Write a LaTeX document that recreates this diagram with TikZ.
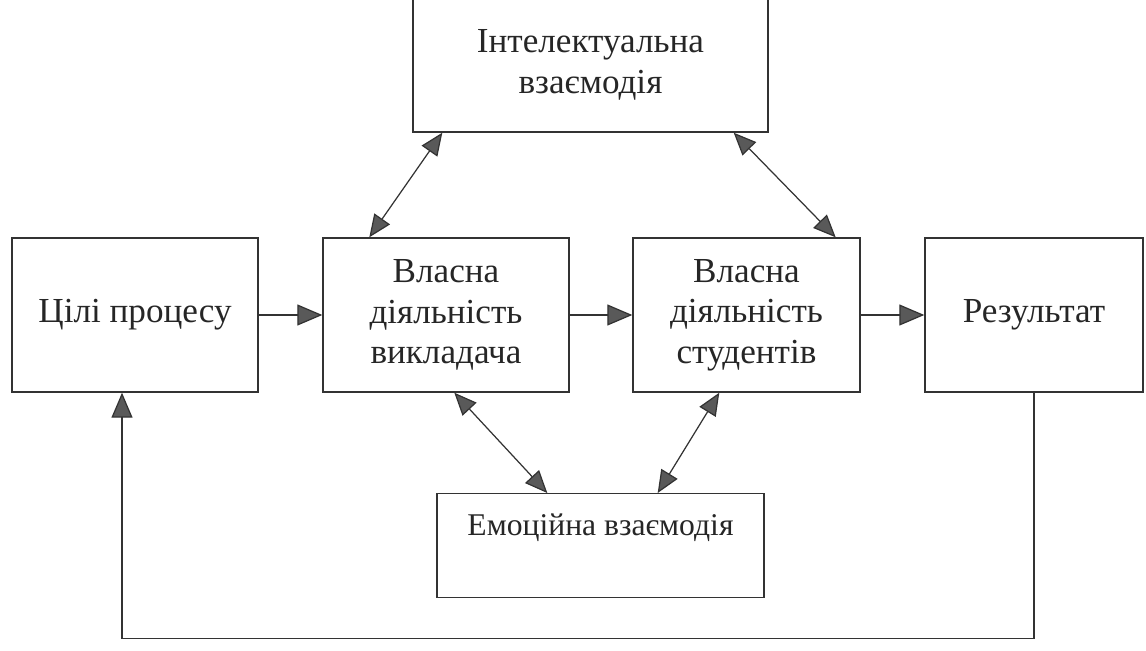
\documentclass[tikz,border=0pt]{standalone}
\usepackage{fontspec}
\setmainfont{Liberation Serif}
\usepackage{tikz}
\usetikzlibrary{positioning, arrows.meta}

\begin{document}
\begin{tikzpicture}[x=0.02cm, y=-0.02cm,
    every node/.style={font=\fontsize{20}{23}\selectfont, text=black!85},
    blockbox/.style={rectangle, draw=black!80, line width=0.8pt, align=center, inner sep=0pt},
    arrow/.style={-{Triangle[length=0.5cm, width=0.42cm, fill=black!65]}, draw=black!80, line width=0.7pt},
    twoway/.style={{Triangle[length=0.45cm, width=0.38cm, fill=black!65]}-{Triangle[length=0.45cm, width=0.38cm, fill=black!65]}, draw=black!80, line width=0.7pt}]

    \useasboundingbox (0,0) rectangle (1146,650);

    % Nodes
    \node[blockbox, minimum width=7.1cm, minimum height=2.68cm] (intel) at (590.5,65) {Інтелектуальна\\взаємодія};

    \node[blockbox, minimum width=4.92cm, minimum height=3.08cm] (goals) at (135,315) {Цілі процесу};
    \node[blockbox, minimum width=4.92cm, minimum height=3.08cm] (teacher) at (446,315) {Власна\\діяльність\\викладача};
    \node[blockbox, minimum width=4.54cm, minimum height=3.08cm] (students) at (746.5,315) {Власна\\діяльність\\студентів};
    \node[blockbox, minimum width=4.36cm, minimum height=3.08cm] (result) at (1034,315) {Результат};

    \node[blockbox, minimum width=6.54cm, text height=0.84cm, text depth=1.24cm, anchor=north,
          font=\fontsize{18}{21}\selectfont] (emotion) at (600.5,493) {Емоційна взаємодія};

    % Straight Arrows
    \draw[arrow] (goals) -- (teacher);
    \draw[arrow] (teacher) -- (students);
    \draw[arrow] (students) -- (result);

    % Two-way Arrows
    \draw[twoway] ([xshift=0.6cm]intel.south west) -- ([xshift=0.94cm]teacher.north west);
    \draw[twoway] ([xshift=-0.7cm]intel.south east) -- ([xshift=-0.5cm]students.north east);
    \draw[twoway] ([xshift=2.64cm]teacher.south west) -- ([xshift=2.22cm]emotion.north west);
    \draw[twoway] ([xshift=1.74cm]students.south west) -- ([xshift=-2.14cm]emotion.north east);

    % Feedback
    \draw[arrow] (result.south) -- ++(0,246) -| ([xshift=-0.26cm]goals.south);

\end{tikzpicture}
\end{document}
